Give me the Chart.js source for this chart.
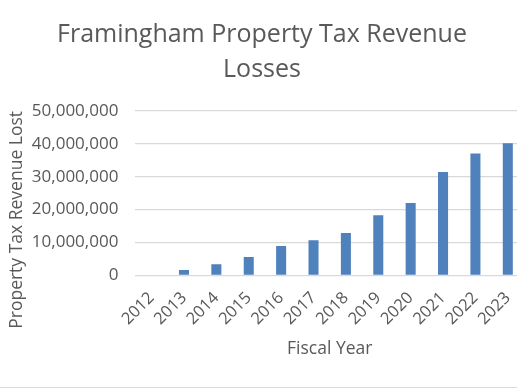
<!DOCTYPE html>
<html>
<head>
<meta charset="utf-8">
<script src="https://cdn.jsdelivr.net/npm/chart.js@4/dist/chart.umd.min.js"></script>
<style>
  html, body { margin: 0; padding: 0; background: #fff; overflow: hidden; }
  #clip { width: 517px; height: 388px; overflow: hidden; position: relative; }
  #wrap { width: 530px; height: 387px; border-bottom: 1px solid #d9d9d9; }
  canvas { display: block; }
</style>
</head>
<body>
<div id="clip"><div id="wrap"><canvas id="c"></canvas></div></div>
<script>
const categories = ['2012','2013','2014','2015','2016','2017','2018','2019','2020','2021','2022','2023'];
const revenueLost = [0, 1600000, 3400000, 5600000, 8900000, 10700000, 12900000, 18300000, 22000000, 31400000, 37100000, 40200000];
const yTicks = [0, 10000000, 20000000, 30000000, 40000000, 50000000];

const FONT = "'Open Sans', 'Liberation Sans', sans-serif";
const TXT = '#595959';

new Chart(document.getElementById('c'), {
  type: 'bar',
  data: {
    labels: categories,
    datasets: [{
      data: revenueLost,
      backgroundColor: '#4f81bd',
      barPercentage: 0.62,
      categoryPercentage: 0.5
    }]
  },
  options: {
    responsive: true,
    maintainAspectRatio: false,
    animation: false,
    layout: { padding: { top: 0, right: 6, bottom: 0, left: 0 } },
    plugins: {
      legend: { display: false },
      tooltip: { enabled: false },
      title: {
        display: true,
        text: ['Framingham Property Tax Revenue', 'Losses'],
        color: TXT,
        font: { family: FONT, size: 25, weight: 'normal', lineHeight: 1.4 },
        padding: { top: 17, bottom: 24 }
      }
    },
    scales: {
      x: {
        grid: { display: false },
        border: { display: false },
        ticks: {
          color: TXT,
          font: { family: FONT, size: 16.5 },
          minRotation: 45,
          maxRotation: 45,
          autoSkip: false,
          padding: 5
        },
        title: {
          display: true,
          text: 'Fiscal Year',
          color: TXT,
          font: { family: FONT, size: 17.5 },
          padding: { top: 0, bottom: 27 }
        },
        afterFit: (s) => { s.height = 111.7; }
      },
      y: {
        min: 0,
        max: 50000000,
        afterBuildTicks: (s) => { s.ticks = yTicks.map(v => ({ value: v })); },
        grid: { color: '#d9d9d9', lineWidth: 1.3, drawTicks: false },
        border: { display: false },
        ticks: {
          color: TXT,
          font: { family: FONT, size: 17 },
          padding: 17,
          callback: (v) => Number(v).toLocaleString('en-US')
        },
        title: {
          display: true,
          text: 'Property Tax Revenue Lost',
          color: TXT,
          align: 'end',
          font: { family: FONT, size: 17.5 },
          padding: { top: 7, bottom: 0 }
        },
        afterFit: (s) => { s.width = 135.4; }
      }
    }
  }
});
</script>
</body>
</html>
